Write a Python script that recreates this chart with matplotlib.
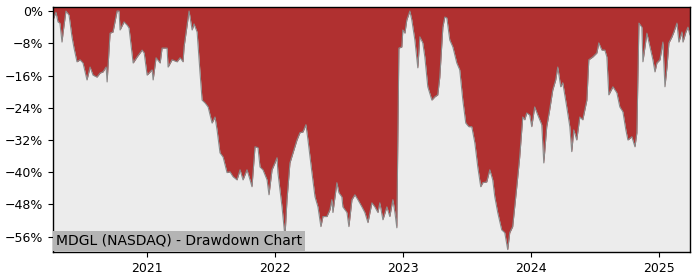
import matplotlib
matplotlib.use("Agg")
import matplotlib.pyplot as plt
import matplotlib.transforms as mtransforms
from matplotlib.ticker import FuncFormatter, FixedLocator
import matplotlib.dates as mdates
import pandas as pd
import numpy as np

# time as decimal years, drawdown in percent
time_years = [
    2020.266, 2020.289, 2020.305, 2020.320, 2020.336, 2020.344, 2020.367, 2020.391, 2020.414, 2020.430,
    2020.453, 2020.477, 2020.500, 2020.531, 2020.555, 2020.578, 2020.609, 2020.633, 2020.656, 2020.680,
    2020.688, 2020.711, 2020.734, 2020.766, 2020.781, 2020.789, 2020.820, 2020.844, 2020.859, 2020.891,
    2020.922, 2020.961, 2020.977, 2021.000, 2021.039, 2021.047, 2021.070, 2021.102, 2021.117, 2021.156,
    2021.164, 2021.195, 2021.234, 2021.258, 2021.281, 2021.289, 2021.313, 2021.328, 2021.352, 2021.367,
    2021.391, 2021.414, 2021.430, 2021.453, 2021.477, 2021.508, 2021.531, 2021.547, 2021.570, 2021.594,
    2021.625, 2021.648, 2021.672, 2021.703, 2021.727, 2021.750, 2021.781, 2021.805, 2021.820, 2021.844,
    2021.867, 2021.883, 2021.906, 2021.938, 2021.953, 2021.977, 2022.000, 2022.016, 2022.023, 2022.055,
    2022.078, 2022.094, 2022.117, 2022.141, 2022.172, 2022.195, 2022.219, 2022.242, 2022.258, 2022.289,
    2022.313, 2022.336, 2022.359, 2022.375, 2022.406, 2022.430, 2022.445, 2022.453, 2022.484, 2022.500,
    2022.523, 2022.531, 2022.563, 2022.578, 2022.602, 2022.625, 2022.648, 2022.680, 2022.703, 2022.727,
    2022.758, 2022.781, 2022.805, 2022.820, 2022.844, 2022.875, 2022.898, 2022.922, 2022.938, 2022.953,
    2022.969, 2022.992, 2023.000, 2023.016, 2023.031, 2023.055, 2023.070, 2023.094, 2023.117, 2023.133,
    2023.156, 2023.172, 2023.195, 2023.227, 2023.250, 2023.273, 2023.289, 2023.313, 2023.328, 2023.344,
    2023.367, 2023.391, 2023.422, 2023.445, 2023.469, 2023.492, 2023.516, 2023.539, 2023.563, 2023.586,
    2023.609, 2023.625, 2023.656, 2023.680, 2023.703, 2023.719, 2023.742, 2023.773, 2023.797, 2023.820,
    2023.836, 2023.859, 2023.891, 2023.914, 2023.930, 2023.938, 2023.953, 2023.969, 2023.992, 2024.008,
    2024.031, 2024.055, 2024.086, 2024.102, 2024.125, 2024.148, 2024.172, 2024.195, 2024.211, 2024.234,
    2024.250, 2024.281, 2024.305, 2024.320, 2024.336, 2024.359, 2024.383, 2024.406, 2024.438, 2024.453,
    2024.484, 2024.516, 2024.531, 2024.555, 2024.578, 2024.594, 2024.609, 2024.641, 2024.672, 2024.695,
    2024.719, 2024.742, 2024.758, 2024.789, 2024.813, 2024.828, 2024.844, 2024.867, 2024.875, 2024.906,
    2024.930, 2024.953, 2024.969, 2024.984, 2025.008, 2025.031, 2025.047, 2025.063, 2025.078, 2025.102,
    2025.117, 2025.141, 2025.156, 2025.180, 2025.188, 2025.211, 2025.227, 2025.242,
]

drawdown_pct = [
    -2.2, -0.3, -2.7, -3.0, -7.7, -5.5, 0.0, -1.0, -6.4, -9.2,
    -12.6, -12.1, -12.9, -17.1, -13.9, -15.9, -16.4, -15.4, -15.1, -13.9,
    -17.6, -5.5, -5.2, 0.0, 0.0, -4.7, -2.7, -3.5, -4.2, -12.9,
    -11.4, -9.7, -10.4, -15.9, -14.6, -17.1, -11.6, -12.9, -9.2, -9.2,
    -13.9, -12.1, -12.6, -11.6, -12.6, -8.9, -3.5, 0.0, -4.7, -3.2,
    -5.2, -15.4, -22.1, -22.8, -23.8, -27.8, -26.3, -29.5, -35.2, -36.2,
    -40.1, -39.9, -41.1, -41.9, -39.4, -41.9, -39.4, -41.9, -43.6, -33.7,
    -33.9, -38.7, -39.4, -41.9, -45.6, -39.4, -37.7, -36.4, -40.1, -48.6,
    -56.0, -46.8, -37.7, -35.2, -32.0, -30.2, -30.0, -28.2, -32.0, -40.1,
    -46.1, -48.6, -53.5, -51.0, -51.0, -49.3, -46.8, -50.0, -42.6, -45.1,
    -46.1, -48.6, -50.0, -53.5, -46.8, -45.6, -46.8, -48.6, -50.0, -52.5,
    -47.6, -48.6, -50.0, -47.6, -51.8, -48.6, -51.0, -46.8, -50.0, -53.8,
    -9.2, -8.9, -4.7, -5.5, -2.2, 0.0, -2.2, -7.2, -14.1, -6.4,
    -7.9, -11.4, -18.8, -22.1, -21.3, -20.8, -16.4, -4.0, -1.5, -1.7,
    -7.2, -8.9, -12.9, -14.6, -22.1, -27.8, -28.7, -28.7, -32.7, -38.7,
    -43.6, -42.6, -42.4, -39.4, -41.9, -46.1, -50.0, -54.3, -55.0, -59.2,
    -55.0, -53.5, -43.6, -36.2, -29.5, -26.3, -27.0, -25.3, -25.8, -28.7,
    -23.8, -25.8, -28.2, -37.7, -28.7, -24.5, -19.6, -17.1, -13.9, -18.8,
    -17.8, -23.8, -28.7, -34.9, -29.5, -32.0, -26.3, -27.0, -22.1, -12.1,
    -11.4, -10.4, -7.9, -9.7, -9.7, -11.4, -20.8, -18.8, -20.3, -23.8,
    -25.0, -29.5, -32.0, -31.2, -33.7, -30.2, -3.0, -4.0, -12.6, -5.5,
    -8.9, -12.1, -15.1, -12.9, -12.1, -7.7, -18.8, -13.9, -7.9, -6.4,
    -5.2, -3.0, -7.7, -5.2, -7.7, -5.2, -4.0, -5.9,
]

x_tick_years = [2021, 2022, 2023, 2024, 2025]
y_ticks = [0, -8, -16, -24, -32, -40, -48, -56]
title_text = "MDGL (NASDAQ) - Drawdown Chart"


def to_datetime(t):
    year = int(np.floor(t))
    start = pd.Timestamp(year=year, month=1, day=1)
    end = pd.Timestamp(year=year + 1, month=1, day=1)
    return start + (end - start) * (t - year)


dates = [to_datetime(t) for t in time_years]
dd = np.array(drawdown_pct)

red = "#b03030"
bg = "#ececec"

fig = plt.figure(figsize=(7, 2.8), dpi=100)
ax = fig.add_axes([53 / 700, 1 - 252 / 280, (690 - 53) / 700, (252 - 7) / 280])
ymin, ymax = -59.8, 1.0
ax.set_facecolor(red)
ax.fill_between(dates, dd, ymin, color=bg, linewidth=0, zorder=2)
ax.plot(dates, dd, color="#8a8a8a", linewidth=0.8, zorder=3)

ax.set_ylim(ymin, ymax)
ax.set_xlim(to_datetime(2020.266), to_datetime(2025.243))

ax.yaxis.set_major_locator(FixedLocator(y_ticks))
ax.yaxis.set_major_formatter(FuncFormatter(lambda v, p: f"{int(round(v))}%".replace("-", "\u2212")))
ax.set_xticks([pd.Timestamp(year=y, month=1, day=1) for y in x_tick_years])
ax.set_xticklabels([str(y) for y in x_tick_years])
ax.tick_params(axis="both", labelsize=9)

for s in ax.spines.values():
    s.set_color("black")
    s.set_linewidth(1.0)
    s.set_zorder(5)

trans = mtransforms.offset_copy(ax.transAxes, fig=fig, x=2.2, y=3.0, units="points")
ax.text(0, 0, title_text, transform=trans, fontsize=10, color="black",
        ha="left", va="bottom", zorder=6,
        bbox=dict(facecolor="#b4b4b4", edgecolor="none", pad=2.2))

fig.savefig("out.png", dpi=100)
